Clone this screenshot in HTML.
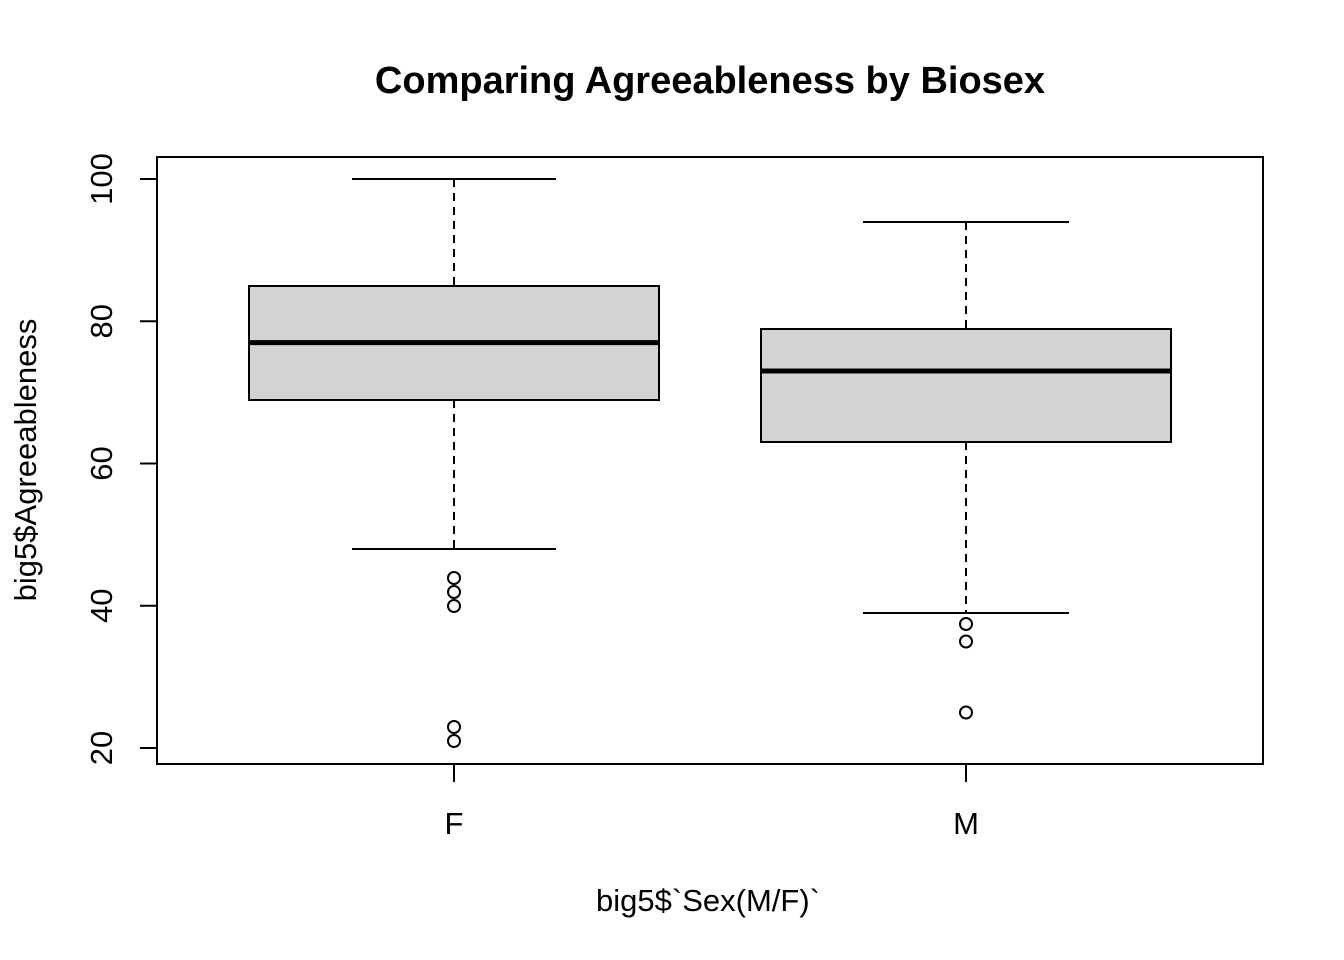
<!DOCTYPE html>
<html><head><meta charset="utf-8"><style>
html,body{margin:0;padding:0;background:#fff;}
svg{display:block;font-family:"Liberation Sans",Arial,sans-serif;}
</style></head><body>
<svg width="1344" height="960" viewBox="0 0 1344 960" xmlns="http://www.w3.org/2000/svg">
<rect width="1344" height="960" fill="#fff"/>
<text x="710" y="93" font-size="38" font-weight="bold" text-anchor="middle">Comparing Agreeableness by Biosex</text>
<rect x="157" y="157" width="1106" height="607" fill="none" stroke="#000" stroke-width="2"/>
<g stroke="#000" stroke-width="2">
<line x1="140" y1="179" x2="157" y2="179"/>
<line x1="140" y1="321.3" x2="157" y2="321.3"/>
<line x1="140" y1="463.5" x2="157" y2="463.5"/>
<line x1="140" y1="605.8" x2="157" y2="605.8"/>
<line x1="140" y1="748" x2="157" y2="748"/>
<line x1="454" y1="764" x2="454" y2="782"/>
<line x1="966" y1="764" x2="966" y2="782"/>
</g>
<g font-size="31" text-anchor="middle">
<text transform="translate(112,179) rotate(-90)">100</text>
<text transform="translate(112,321.3) rotate(-90)">80</text>
<text transform="translate(112,463.5) rotate(-90)">60</text>
<text transform="translate(112,605.8) rotate(-90)">40</text>
<text transform="translate(112,748) rotate(-90)">20</text>
<text x="454" y="834">F</text>
<text x="966" y="834">M</text>
<text x="708" y="911">big5$`Sex(M/F)`</text>
<text transform="translate(36,460) rotate(-90)">big5$Agreeableness</text>
</g>
<g stroke="#000" stroke-width="2" fill="none">
<line x1="454" y1="179" x2="454" y2="286" stroke-dasharray="8,6"/>
<line x1="454" y1="400" x2="454" y2="549" stroke-dasharray="8,6"/>
<line x1="352" y1="179" x2="556" y2="179"/>
<line x1="352" y1="549" x2="556" y2="549"/>
<rect x="249" y="286" width="410" height="114" fill="#d3d3d3"/>
<line x1="249" y1="342.6" x2="659" y2="342.6" stroke-width="5"/>
<circle cx="454" cy="578" r="6"/>
<circle cx="454" cy="592" r="6"/>
<circle cx="454" cy="606" r="6"/>
<circle cx="454" cy="727" r="6"/>
<circle cx="454" cy="741" r="6"/>
</g>
<g stroke="#000" stroke-width="2" fill="none">
<line x1="966" y1="222" x2="966" y2="329" stroke-dasharray="8,6"/>
<line x1="966" y1="442" x2="966" y2="613" stroke-dasharray="8,6"/>
<line x1="863" y1="222" x2="1069" y2="222"/>
<line x1="863" y1="613" x2="1069" y2="613"/>
<rect x="761" y="329" width="410" height="113" fill="#d3d3d3"/>
<line x1="761" y1="371" x2="1171" y2="371" stroke-width="5"/>
<circle cx="966" cy="624" r="6"/>
<circle cx="966" cy="641.5" r="6"/>
<circle cx="966" cy="712.5" r="6"/>
</g>
</svg>
</body></html>
